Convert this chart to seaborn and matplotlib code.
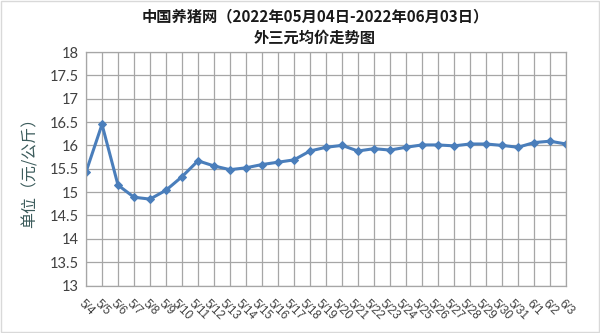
import matplotlib
matplotlib.use("Agg")
import matplotlib.pyplot as plt
import seaborn as sns
import pandas as pd
from matplotlib.patches import Rectangle

# data
dates = ["5/4", "5/5", "5/6", "5/7", "5/8", "5/9", "5/10", "5/11", "5/12", "5/13",
         "5/14", "5/15", "5/16", "5/17", "5/18", "5/19", "5/20", "5/21", "5/22", "5/23",
         "5/24", "5/25", "5/26", "5/27", "5/28", "5/29", "5/30", "5/31", "6/1", "6/2", "6/3"]
prices = [15.43, 16.45, 15.15, 14.89, 14.85, 15.04, 15.33, 15.67, 15.56, 15.48,
          15.52, 15.59, 15.64, 15.69, 15.88, 15.96, 16.00, 15.88, 15.93, 15.90,
          15.96, 16.01, 16.01, 15.99, 16.03, 16.03, 16.00, 15.96, 16.06, 16.09, 16.03]
y_ticks = [13, 13.5, 14, 14.5, 15, 15.5, 16, 16.5, 17, 17.5, 18]

df = pd.DataFrame({"date": dates, "price": prices, "pos": range(len(dates))})

sns.set_style("white")
plt.rcParams["font.family"] = ["Noto Sans CJK SC", "DejaVu Sans"]

fig = plt.figure(figsize=(6, 3.33), dpi=100)
ax = fig.add_axes([86 / 600, 1 - 285.5 / 333, 480 / 600, 233.5 / 333])

sns.lineplot(data=df, x="pos", y="price", ax=ax, color="#4a7ebb", linewidth=2.2,
             marker="D", markersize=4.5, markeredgecolor="#4a7ebb")

ax.set_xlim(0, len(dates) - 1)
ax.set_ylim(13, 18)
ax.set_yticks(y_ticks)
ax.set_yticklabels([f"{v:g}" for v in y_ticks], fontsize=10.5, color="#404040",
                   family=["Lato", "DejaVu Sans"])
ax.set_xticks(df["pos"])
ax.set_xticklabels(dates, rotation=-45, ha="center", va="top", fontsize=8.5,
                   color="#404040", family=["Liberation Sans", "DejaVu Sans"])
ax.tick_params(axis="y", length=0, pad=5)
ax.tick_params(axis="x", length=0, pad=9)

ax.grid(True, color="#a6a6a6", linewidth=0.9)
ax.set_axisbelow(True)
for s in ax.spines.values():
    s.set_color("#a6a6a6")
    s.set_linewidth(0.9)

ax.set_xlabel("")
ax.set_ylabel("单位（元/公斤）", fontsize=11.5, color="#3b5b5b", labelpad=8)

fig.text(0.525, 0.95, "中国养猪网（2022年05月04日-2022年06月03日）", ha="center", va="center",
         fontsize=11, fontweight="bold", color="#1a1a1a")
fig.text(0.525, 0.887, "外三元均价走势图", ha="center", va="center",
         fontsize=11, fontweight="bold", color="#1a1a1a")

fig.patches.append(Rectangle((0.002, 0.003), 0.996, 0.994, transform=fig.transFigure,
                             fill=False, edgecolor="#d9d9d9", linewidth=1))

fig.savefig("out.png", dpi=100)
